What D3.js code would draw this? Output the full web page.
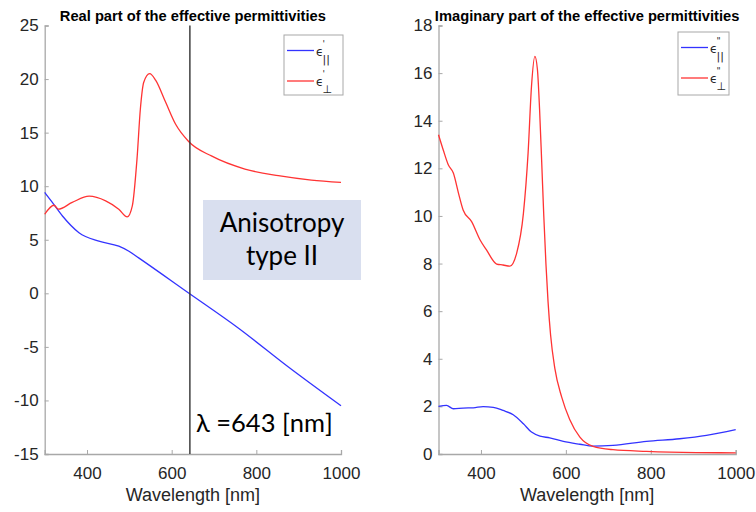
<!DOCTYPE html>
<html><head><meta charset="utf-8">
<script src="https://cdn.jsdelivr.net/npm/d3@7"></script>
<style>
html,body{margin:0;padding:0;background:#fff;}
svg{display:block;font-family:"Liberation Sans",Arial,sans-serif;}
</style></head>
<body>
<svg id="chart" width="756" height="512"></svg>
<script>
// ---- Data ----
const realPerpWl  = [300,322,332,365,405,444,475,495,507,518,526,534,548,562,585,609,640,695,773,852,930,1000];
const realPerpVal = [7.38,8.22,7.85,8.48,9.07,8.63,7.85,7.13,8.16,12.5,17.2,19.7,20.5,19.9,17.9,15.8,14.17,12.8,11.6,10.98,10.57,10.35];
const realParWl   = [300,318,342,381,428,475,499,522,640,758,875,1000];
const realParVal  = [9.42,8.48,7.22,5.66,4.87,4.40,3.93,3.31,0.03,-3.26,-6.86,-10.5];
const imagPerpWl  = [300,311,323,335,347,358,378,398,413,437,452,468,484,500,511,519,527,533,538,543,548,553,558,564,574,590,609,633,664,711,790,907,1000];
const imagPerpVal = [13.41,12.78,12.15,11.8,10.96,10.25,9.76,8.99,8.57,7.98,7.94,7.89,8.43,10.11,12.64,15.44,16.7,16.15,14.5,12.3,10.0,8.0,6.4,5.0,3.6,2.4,1.45,0.71,0.32,0.18,0.11,0.06,0.05];
const imagParWl   = [300,319,335,358,382,405,429,452,476,500,519,539,562,594,633,664,711,790,868,931,1000];
const imagParVal  = [2.0,2.04,1.90,1.93,1.94,1.99,1.96,1.83,1.65,1.27,0.92,0.75,0.68,0.53,0.41,0.33,0.36,0.53,0.64,0.78,1.02];
const xTicks = [400,600,800,1000];
const realYTicks = [-15,-10,-5,0,5,10,15,20,25];
const imagYTicks = [0,2,4,6,8,10,12,14,16,18];
const markerWl = 643;
const titles = ["Real part of the effective permittivities","Imaginary part of the effective permittivities"];
const xLabel = "Wavelength [nm]";
const annotBox = ["Anisotropy","type II"];
const markerLabel = "λ =643 [nm]";
const legendSubs = ["||","⊥"];

const svg = d3.select("#chart");
const yTop = 25.5, yBot = 454;
const axisCol = "#a8a8a8", txtCol = "#262626";
const blue = "#3333ff", red = "#ff3333";

function zip(a,b){return a.map((d,i)=>[d,b[i]]);}

function panel(x0,x1,yDom,yTicks,title,series,legendSup,legendBox){
  const x = d3.scaleLinear().domain([300,1000]).range([x0,x1]);
  const y = d3.scaleLinear().domain(yDom).range([yBot,yTop]);
  const g = svg.append("g");
  const ax = g.append("g").attr("transform",`translate(0,${yBot})`)
    .call(d3.axisBottom(x).tickValues(xTicks).tickSize(-4).tickPadding(13).tickFormat(d3.format("d")));
  const ay = g.append("g").attr("transform",`translate(${x0},0)`)
    .call(d3.axisLeft(y).tickValues(yTicks).tickSize(-4).tickPadding(6).tickFormat(d3.format("d")));
  [ax,ay].forEach(a=>{
    a.select(".domain").attr("stroke",axisCol).attr("stroke-width",1.3);
    a.selectAll(".tick line").attr("stroke",axisCol).attr("stroke-width",1);
    a.selectAll(".tick text").attr("fill",txtCol).style("font-size","17px").style("font-family","Liberation Sans, Arial, sans-serif");
  });
  ay.selectAll(".tick text").text(d=>d<0?"-"+Math.abs(d):d);
  g.append("text").attr("x",(x0+x1)/2).attr("y",501).attr("text-anchor","middle")
    .attr("fill",txtCol).style("font-size","18px").text(xLabel);
  g.append("text").attr("x",(x0+x1)/2).attr("y",21).attr("text-anchor","middle")
    .attr("fill","#000").style("font-size","14.7px").style("font-weight","bold").text(title);
  const line = d3.line().x(d=>x(d[0])).y(d=>y(d[1])).curve(d3.curveMonotoneX);
  series.forEach(s=>{
    g.append("path").datum(s.data).attr("d",line).attr("fill","none")
      .attr("stroke",s.color).attr("stroke-width",1.3);
  });
  const [lx,ly,lw,lh] = legendBox;
  const lg = g.append("g");
  lg.append("rect").attr("x",lx).attr("y",ly).attr("width",lw).attr("height",lh)
    .attr("fill","#fff").attr("stroke",axisCol).attr("stroke-width",1);
  series.forEach((s,i)=>{
    const cy = ly + 15.5 + i*30.5;
    lg.append("line").attr("x1",lx+3).attr("x2",lx+30).attr("y1",cy).attr("y2",cy)
      .attr("stroke",s.color).attr("stroke-width",1.3);
    lg.append("text").attr("x",lx+32).attr("y",cy+5).attr("fill",txtCol)
      .style("font-family","DejaVu Sans, sans-serif").style("font-size","12px").text("ϵ");
    lg.append("text").attr("x",lx+38.5).attr("y",cy-4).attr("fill",txtCol)
      .style("font-family","DejaVu Sans, sans-serif").style("font-size","9px").text(legendSup);
    lg.append("text").attr("x",lx+38.5).attr("y",cy+12).attr("fill",txtCol)
      .style("font-family","DejaVu Sans, sans-serif").style("font-size","11px").text(legendSubs[i]);
  });
  return {x,y,g};
}

const L = panel(44.7,341,[-15,25],realYTicks,titles[0],[
  {data:zip(realParWl,realParVal),color:blue},
  {data:zip(realPerpWl,realPerpVal),color:red}
],"'",[284,35,59,60]);

L.g.append("line").attr("x1",L.x(markerWl)).attr("x2",L.x(markerWl))
  .attr("y1",yTop).attr("y2",yBot).attr("stroke","#333").attr("stroke-width",1.4);

L.g.append("rect").attr("x",203).attr("y",200).attr("width",158).attr("height",80).attr("fill","#d9dfef");
annotBox.forEach((t,i)=>{
  L.g.append("text").attr("x",282).attr("y",232+i*33).attr("text-anchor","middle")
    .attr("fill","#000").style("font-family","Lato, 'Open Sans', sans-serif").style("font-size","26px").text(t);
});
L.g.append("text").attr("x",196).attr("y",432).attr("fill","#000")
  .style("font-family","Lato, 'Open Sans', sans-serif").style("font-size","25.5px").text(markerLabel);

panel(438.5,735.7,[0,18],imagYTicks,titles[1],[
  {data:zip(imagParWl,imagParVal),color:blue},
  {data:zip(imagPerpWl,imagPerpVal),color:red}
],"\"",[678,32,51,63]);
</script>
</body></html>
